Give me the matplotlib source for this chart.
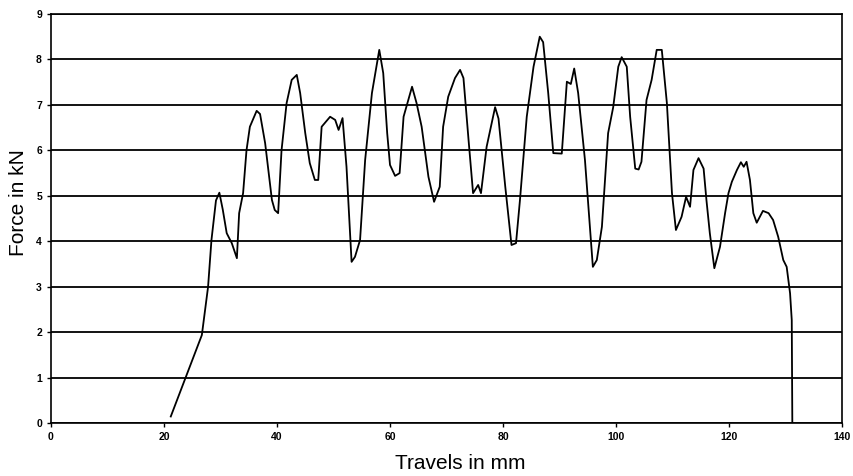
import matplotlib.pyplot as plt

plt.rcParams['font.family'] = ['Liberation Sans', 'DejaVu Sans']

# travel (mm) and force (kN)
travel = [21.2, 26.7, 27.8, 28.4, 29.2, 29.8, 30.4, 31.1, 32.0, 32.9, 33.3, 34.0,
          34.6, 35.2, 36.4, 37.0, 37.9, 39.1, 39.6, 40.2, 40.8, 41.7, 42.6, 43.5,
          44.1, 45.0, 45.8, 46.7, 47.3, 47.9, 49.4, 50.3, 50.9, 51.6, 52.3, 53.2,
          53.8, 54.7, 55.6, 56.8, 57.5, 58.1, 58.8, 59.5, 60.0, 60.9, 61.7, 62.4,
          63.9, 64.7, 65.6, 66.8, 67.8, 68.8, 69.4, 70.3, 71.5, 72.4, 73.0, 73.9,
          74.7, 75.6, 76.1, 77.1, 78.6, 79.2, 80.4, 81.5, 82.3, 83.0, 84.2, 85.4,
          86.5, 87.1, 88.0, 88.9, 90.4, 91.3, 92.0, 92.6, 93.3, 94.5, 95.9, 96.6,
          97.5, 98.6, 99.5, 100.4, 101.0, 101.9, 102.5, 103.4, 104.0, 104.5, 105.4,
          106.3, 107.2, 108.1, 109.0, 109.9, 110.6, 111.6, 112.4, 113.1, 113.7,
          114.6, 115.5, 116.0, 116.6, 117.4, 118.4, 119.3, 119.9, 120.5, 121.4,
          122.1, 122.6, 123.1, 123.7, 124.3, 124.9, 126.0, 127.0, 127.8, 128.7,
          129.6, 130.2, 130.8, 131.1, 131.2]
force = [0.15, 1.94, 3.0, 4.03, 4.9, 5.07, 4.7, 4.18, 3.96, 3.63, 4.62, 5.06,
         6.0, 6.52, 6.87, 6.8, 6.16, 4.91, 4.69, 4.62, 6.0, 7.04, 7.55, 7.66,
         7.26, 6.38, 5.72, 5.35, 5.35, 6.52, 6.74, 6.67, 6.45, 6.71, 5.64, 3.55,
         3.66, 4.03, 5.79, 7.26, 7.77, 8.21, 7.7, 6.38, 5.68, 5.44, 5.5, 6.74,
         7.4, 7.04, 6.52, 5.42, 4.87, 5.2, 6.52, 7.18, 7.59, 7.77, 7.59, 6.23,
         5.06, 5.24, 5.06, 6.08, 6.95, 6.7, 5.2, 3.92, 3.96, 4.91, 6.74, 7.84,
         8.5, 8.38, 7.26, 5.94, 5.93, 7.51, 7.46, 7.8, 7.26, 5.79, 3.44, 3.59,
         4.32, 6.38, 6.95, 7.84, 8.05, 7.84, 6.74, 5.6, 5.58, 5.75, 7.11,
         7.55, 8.21, 8.21, 7.04, 5.06, 4.25, 4.54, 4.98, 4.76, 5.57,
         5.83, 5.6, 4.91, 4.18, 3.41, 3.88, 4.62, 5.06, 5.31, 5.57,
         5.74, 5.64, 5.75, 5.35, 4.62, 4.41, 4.67, 4.62, 4.47, 4.1,
         3.59, 3.44, 2.86, 2.27, 0.03]

fig = plt.figure(figsize=(8.54, 4.76), dpi=100)
ax = fig.add_axes([0.0597, 0.1107, 0.9263, 0.86])

ax.plot(travel, force, color='black', linewidth=1.3)

ax.set_xlim(0, 140)
ax.set_ylim(0, 9)
ax.set_xticks(range(0, 141, 20))
ax.set_yticks(range(0, 10))
ax.grid(axis='y', color='black', linewidth=1.3)
ax.set_axisbelow(True)
ax.tick_params(labelsize=7.5, length=3, width=1, direction='out')
for lbl in ax.get_xticklabels() + ax.get_yticklabels():
    lbl.set_fontweight('bold')
for s in ax.spines.values():
    s.set_linewidth(1.2)

ax.set_xlabel('Travels in mm', fontsize=15)
ax.set_ylabel('Force in kN', fontsize=15)
ax.xaxis.set_label_coords(0.517, -0.075)
ax.yaxis.set_label_coords(-0.029, 0.54)

fig.savefig('out.png', dpi=100)
